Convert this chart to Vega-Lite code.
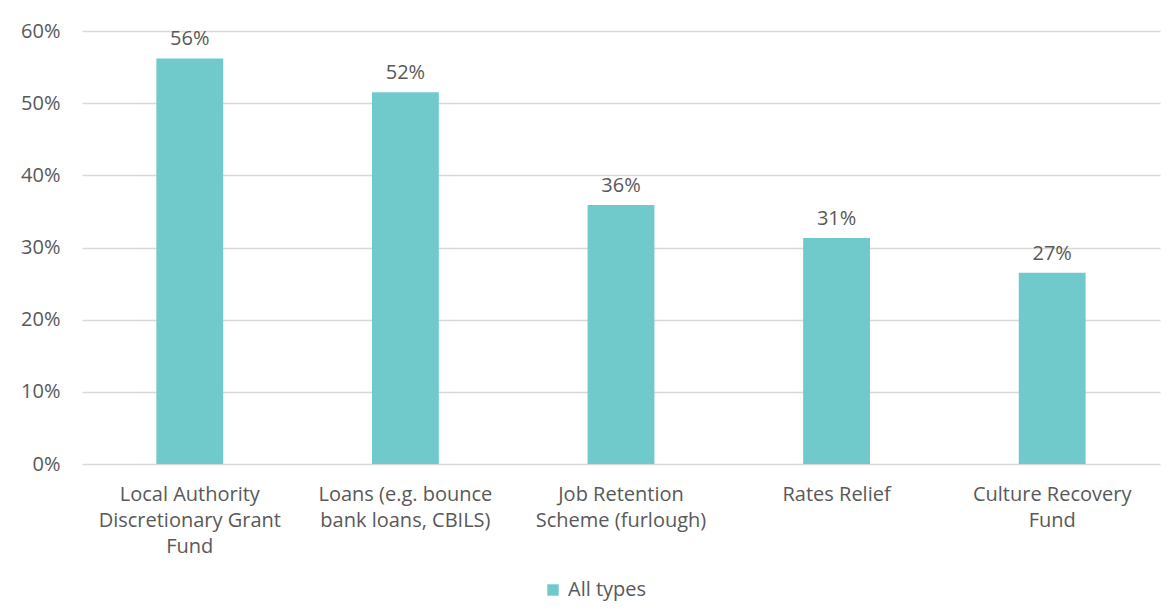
{
  "$schema": "https://vega.github.io/schema/vega-lite/v6.json",
  "width": 1078,
  "height": 433,
  "autosize": {"type": "none"},
  "padding": {"left": 82, "top": 31, "right": 12, "bottom": 148},
  "background": "white",
  "config": {
    "view": {"stroke": null},
    "font": "Open Sans",
    "axis": {"labelFont": "Open Sans", "labelColor": "#595959", "labelFontSize": 20}
  },
  "data": {
    "values": [
      {"scheme": "Local Authority Discretionary Grant Fund", "share": 0.562, "series": "All types"},
      {"scheme": "Loans (e.g. bounce bank loans, CBILS)", "share": 0.515, "series": "All types"},
      {"scheme": "Job Retention Scheme (furlough)", "share": 0.359, "series": "All types"},
      {"scheme": "Rates Relief", "share": 0.313, "series": "All types"},
      {"scheme": "Culture Recovery Fund", "share": 0.265, "series": "All types"}
    ]
  },
  "encoding": {
    "x": {
      "field": "scheme", "type": "nominal", "sort": null,
      "scale": {"paddingInner": 0.69, "paddingOuter": 0.345},
      "axis": {
        "title": null, "domain": false, "ticks": false, "labelAngle": 0,
        "labelPadding": 20, "labelLineHeight": 26, "labelBaseline": "top", "labelLimit": 400,
        "labelExpr": "datum.value == 'Local Authority Discretionary Grant Fund' ? ['Local Authority', 'Discretionary Grant', 'Fund'] : datum.value == 'Loans (e.g. bounce bank loans, CBILS)' ? ['Loans (e.g. bounce', 'bank loans, CBILS)'] : datum.value == 'Job Retention Scheme (furlough)' ? ['Job Retention', 'Scheme (furlough)'] : datum.value == 'Culture Recovery Fund' ? ['Culture Recovery', 'Fund'] : datum.value"
      }
    },
    "y": {
      "field": "share", "type": "quantitative",
      "scale": {"domain": [0, 0.6], "nice": false},
      "axis": {
        "title": null, "format": ".0%", "values": [0, 0.1, 0.2, 0.3, 0.4, 0.5, 0.6],
        "domain": false, "ticks": false, "labelPadding": 22,
        "gridColor": "#d9d9d9", "gridWidth": 1.3
      }
    }
  },
  "layer": [
    {
      "mark": {"type": "bar"},
      "encoding": {
        "color": {
          "field": "series", "type": "nominal",
          "scale": {"range": ["#70C9CB"]},
          "legend": {
            "title": null, "orient": "none", "legendX": 461, "legendY": 549,
            "symbolType": "square", "symbolSize": 130, "symbolStrokeWidth": 0,
            "labelFont": "Open Sans", "labelFontSize": 20, "labelColor": "#595959", "labelOffset": 5
          }
        }
      }
    },
    {
      "mark": {"type": "text", "baseline": "bottom", "dy": -9, "fontSize": 20, "color": "#595959", "font": "Open Sans"},
      "encoding": {"text": {"field": "share", "format": ".0%"}}
    }
  ]
}
